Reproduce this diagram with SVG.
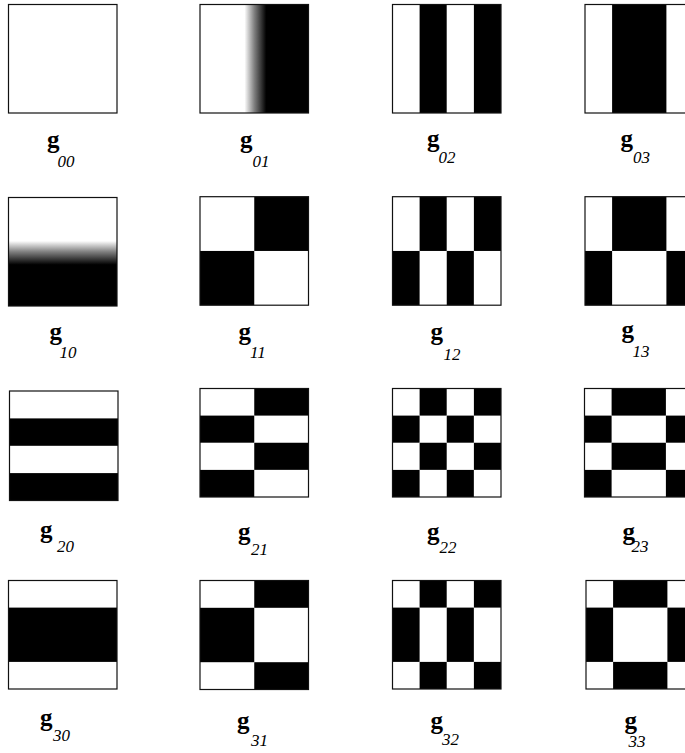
<svg xmlns="http://www.w3.org/2000/svg" width="685" height="753" viewBox="0 0 685 753">
<defs>
<style>
.bg{fill:#ffffff}
.k{fill:#000000}
.fr{fill:none;stroke:#111111;stroke-width:1.2}
.lab{font-family:"Liberation Serif","Times New Roman",serif;fill:#000000}
.g{font-weight:bold;font-size:25px}
.s{font-style:italic;font-size:17px}
</style>
<linearGradient id="gradH" x1="0" y1="0" x2="1" y2="0">
<stop offset="0" stop-color="#ffffff"/>
<stop offset="0.41" stop-color="#ffffff"/>
<stop offset="0.5" stop-color="#808080"/>
<stop offset="0.61" stop-color="#000000"/>
<stop offset="1" stop-color="#000000"/>
</linearGradient>
<linearGradient id="gradV" x1="0" y1="0" x2="0" y2="1">
<stop offset="0" stop-color="#ffffff"/>
<stop offset="0.40" stop-color="#ffffff"/>
<stop offset="0.50" stop-color="#808080"/>
<stop offset="0.62" stop-color="#000000"/>
<stop offset="1" stop-color="#000000"/>
</linearGradient>
</defs>
<rect width="685" height="753" fill="#ffffff"/>

<!-- Row 0 -->
<g id="g00">
<g transform="translate(8.5,4.5)">
<rect class="bg" width="108.5" height="108.5"/>
<rect class="fr" width="108.5" height="108.5"/>
</g>
<text class="lab" x="47" y="147.5"><tspan class="g">g</tspan><tspan class="s" x="57.5" y="166.7">00</tspan></text>
</g>

<g id="g01">
<g transform="translate(200,4.5)">
<rect width="108.5" height="108.5" fill="url(#gradH)"/>
<rect class="fr" width="108.5" height="108.5"/>
</g>
<text class="lab" x="240" y="147.5"><tspan class="g">g</tspan><tspan class="s" x="252.5" y="166.7">01</tspan></text>
</g>

<g id="g02">
<g transform="translate(392.5,4.5)">
<rect class="bg" width="108.5" height="108.5"/>
<rect class="k" x="27.1" width="27.1" height="108.5"/>
<rect class="k" x="81.4" width="27.1" height="108.5"/>
<rect class="fr" width="108.5" height="108.5"/>
</g>
<text class="lab" x="427" y="146.5"><tspan class="g">g</tspan><tspan class="s" x="438.5" y="163.3">02</tspan></text>
</g>

<g id="g03">
<g transform="translate(585,4.5)">
<rect class="bg" width="108.5" height="108.5"/>
<rect class="k" x="27.1" width="54.3" height="108.5"/>
<rect class="fr" width="108.5" height="108.5"/>
</g>
<text class="lab" x="620.5" y="146.5"><tspan class="g">g</tspan><tspan class="s" x="633" y="163.3">03</tspan></text>
</g>

<!-- Row 1 -->
<g id="g10">
<g transform="translate(8.5,197.5)">
<rect width="108.5" height="108.5" fill="url(#gradV)"/>
<rect class="fr" width="108.5" height="108.5"/>
</g>
<text class="lab" x="49.5" y="339.8"><tspan class="g">g</tspan><tspan class="s" x="59.5" y="358.3">10</tspan></text>
</g>

<g id="g11">
<g transform="translate(200,196.7)">
<rect class="bg" width="108.5" height="108.5"/>
<rect class="k" x="54.25" width="54.25" height="54.25"/>
<rect class="k" y="54.25" width="54.25" height="54.25"/>
<rect class="fr" width="108.5" height="108.5"/>
</g>
<text class="lab" x="238.5" y="339.8"><tspan class="g">g</tspan><tspan class="s" x="250" y="358.3">11</tspan></text>
</g>

<g id="g12">
<g transform="translate(392.5,196.7)">
<rect class="bg" width="108.5" height="108.5"/>
<rect class="k" x="27.1" width="27.1" height="54.25"/>
<rect class="k" x="81.4" width="27.1" height="54.25"/>
<rect class="k" y="54.25" width="27.1" height="54.25"/>
<rect class="k" x="54.25" y="54.25" width="27.1" height="54.25"/>
<rect class="fr" width="108.5" height="108.5"/>
</g>
<text class="lab" x="430.5" y="339.8"><tspan class="g">g</tspan><tspan class="s" x="443.5" y="360">12</tspan></text>
</g>

<g id="g13">
<g transform="translate(585,196.7)">
<rect class="bg" width="108.5" height="108.5"/>
<rect class="k" x="27.1" width="54.3" height="54.25"/>
<rect class="k" y="54.25" width="27.1" height="54.25"/>
<rect class="k" x="81.4" y="54.25" width="27.1" height="54.25"/>
<rect class="fr" width="108.5" height="108.5"/>
</g>
<text class="lab" x="621.5" y="338.2"><tspan class="g">g</tspan><tspan class="s" x="632.5" y="356.7">13</tspan></text>
</g>

<!-- Row 2 -->
<g id="g20">
<g transform="translate(9.5,391)">
<rect class="bg" width="108.5" height="109.5"/>
<rect class="k" y="27.4" width="108.5" height="27.4"/>
<rect class="k" y="82.1" width="108.5" height="27.4"/>
<rect class="fr" width="108.5" height="109.5"/>
</g>
<text class="lab" x="40" y="538"><tspan class="g">g</tspan><tspan class="s" x="57" y="551.7">20</tspan></text>
</g>

<g id="g21">
<g transform="translate(200,388.5)">
<rect class="bg" width="108.5" height="108.5"/>
<rect class="k" x="54.25" width="54.25" height="27.1"/>
<rect class="k" y="27.1" width="54.25" height="27.1"/>
<rect class="k" x="54.25" y="54.25" width="54.25" height="27.1"/>
<rect class="k" y="81.4" width="54.25" height="27.1"/>
<rect class="fr" width="108.5" height="108.5"/>
</g>
<text class="lab" x="238" y="540"><tspan class="g">g</tspan><tspan class="s" x="251" y="555">21</tspan></text>
</g>

<g id="g22">
<g transform="translate(392.5,388.5)">
<rect class="bg" width="108.5" height="108.5"/>
<rect class="k" x="27.1" width="27.1" height="27.1"/>
<rect class="k" x="81.4" width="27.1" height="27.1"/>
<rect class="k" y="27.1" width="27.1" height="27.1"/>
<rect class="k" x="54.25" y="27.1" width="27.1" height="27.1"/>
<rect class="k" x="27.1" y="54.25" width="27.1" height="27.1"/>
<rect class="k" x="81.4" y="54.25" width="27.1" height="27.1"/>
<rect class="k" y="81.4" width="27.1" height="27.1"/>
<rect class="k" x="54.25" y="81.4" width="27.1" height="27.1"/>
<rect class="fr" width="108.5" height="108.5"/>
</g>
<text class="lab" x="427" y="540"><tspan class="g">g</tspan><tspan class="s" x="439.5" y="553.3">22</tspan></text>
</g>

<g id="g23">
<g transform="translate(584.5,388.5)">
<rect class="bg" width="108.5" height="108.5"/>
<rect class="k" x="27.1" width="54.3" height="27.1"/>
<rect class="k" y="27.1" width="27.1" height="27.1"/>
<rect class="k" x="81.4" y="27.1" width="27.1" height="27.1"/>
<rect class="k" x="27.1" y="54.25" width="54.3" height="27.1"/>
<rect class="k" y="81.4" width="27.1" height="27.1"/>
<rect class="k" x="81.4" y="81.4" width="27.1" height="27.1"/>
<rect class="fr" width="108.5" height="108.5"/>
</g>
<text class="lab" x="622.5" y="540"><tspan class="g">g</tspan><tspan class="s" x="631.5" y="552">23</tspan></text>
</g>

<!-- Row 3 -->
<g id="g30">
<g transform="translate(8.5,580.5)">
<rect class="bg" width="108.5" height="108.5"/>
<rect class="k" y="27.1" width="108.5" height="54.3"/>
<rect class="fr" width="108.5" height="108.5"/>
</g>
<text class="lab" x="40" y="726"><tspan class="g">g</tspan><tspan class="s" x="53" y="741.3">30</tspan></text>
</g>

<g id="g31">
<g transform="translate(200,580.5)">
<rect class="bg" width="108.5" height="109"/>
<rect class="k" x="54.25" width="54.25" height="27.3"/>
<rect class="k" y="27.3" width="54.25" height="54.4"/>
<rect class="k" x="54.25" y="81.7" width="54.25" height="27.3"/>
<rect class="fr" width="108.5" height="109"/>
</g>
<text class="lab" x="237" y="728.5"><tspan class="g">g</tspan><tspan class="s" x="251" y="745.7">31</tspan></text>
</g>

<g id="g32">
<g transform="translate(392.5,580.5)">
<rect class="bg" width="108.5" height="108.5"/>
<rect class="k" x="27.1" width="27.1" height="27.1"/>
<rect class="k" x="81.4" width="27.1" height="27.1"/>
<rect class="k" y="27.1" width="27.1" height="54.3"/>
<rect class="k" x="54.25" y="27.1" width="27.1" height="54.3"/>
<rect class="k" x="27.1" y="81.4" width="27.1" height="27.1"/>
<rect class="k" x="81.4" y="81.4" width="27.1" height="27.1"/>
<rect class="fr" width="108.5" height="108.5"/>
</g>
<text class="lab" x="430.5" y="728.5"><tspan class="g">g</tspan><tspan class="s" x="442" y="744.7">32</tspan></text>
</g>

<g id="g33">
<g transform="translate(586,580.5)">
<rect class="bg" width="108.5" height="108.5"/>
<rect class="k" x="27.1" width="54.3" height="27.1"/>
<rect class="k" y="27.1" width="27.1" height="54.3"/>
<rect class="k" x="81.4" y="27.1" width="27.1" height="54.3"/>
<rect class="k" x="27.1" y="81.4" width="54.3" height="27.1"/>
<rect class="fr" width="108.5" height="108.5"/>
</g>
<text class="lab" x="624.5" y="728.5"><tspan class="g">g</tspan><tspan class="s" x="628.5" y="747.3">33</tspan></text>
</g>
</svg>
